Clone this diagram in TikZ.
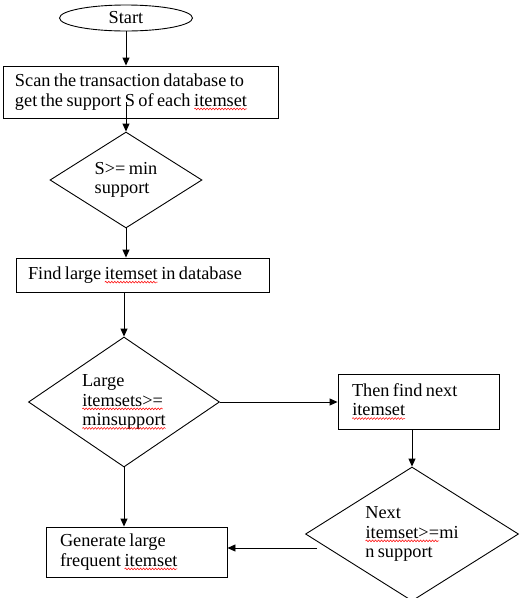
\documentclass[tikz,border=0pt]{standalone}
\usepackage{fontspec}
\setmainfont{Liberation Serif}
\usetikzlibrary{shapes.geometric,arrows.meta,decorations.pathmorphing}
\tikzset{
  spellword/.style={rectangle,draw=none,fill=none,inner sep=0pt,outer sep=0pt,minimum width=0pt,minimum height=0pt,text width={},aspect=1},
  spellline/.style={red,line width=0.5pt,decorate,decoration={snake,amplitude=0.9pt,segment length=3pt}}
}
\newcommand\spellwave[1]{\tikz[baseline=(w.base)]{\node[spellword] (w) {#1};
  \draw[spellline] ([yshift=-2.8pt]w.base west) -- ([yshift=-2.8pt]w.base east);}}
\newcommand\flowfont{\fontsize{18.3}{19.5}\selectfont}

\begin{document}
\begin{tikzpicture}[x=1pt,y=1pt,
  every node/.style={font=\flowfont,execute at begin node={\spaceskip=3.4pt plus 1pt minus 0.5pt}},
  procbox/.style={draw,line width=0.9pt,rectangle,align=left,inner xsep=12pt,inner ysep=0pt},
  decision/.style={draw,line width=0.9pt,diamond,align=left,inner sep=0pt},
  terminal/.style={draw,line width=0.9pt,ellipse,inner sep=0pt},
  flow/.style={line width=0.9pt,-{Triangle[length=8pt,width=7pt]}}]
\useasboundingbox (0,0) rectangle (522,-598);
\clip (0,0) rectangle (522,-598);
\node [terminal,minimum width=133pt,minimum height=26pt] (start) at (126,-18) {Start};
\node [procbox,text width=251pt,minimum height=52pt] (scan) at (140.5,-92) {Scan the transaction database to\\get the support S of each \spellwave{itemset}};
\node [decision,minimum width=152pt,minimum height=96pt,aspect=1.58] (minsup) at (126,-180) {S>= min\\support};
\node [procbox,text width=229pt,minimum height=34pt] (find) at (142.5,-275) {Find large \spellwave{itemset} in database};
\node [decision,minimum width=191pt,minimum height=130pt,aspect=1.47] (largesup) at (124,-402) {Large\\\spellwave{itemsets>=}\\\spellwave{minsupport}};
\node [procbox,inner xsep=14pt,text width=133pt,minimum height=55pt] (next) at (418.5,-401.5) {Then find next\\\spellwave{itemset}};
\node [decision,minimum width=213pt,minimum height=134pt,aspect=1.59] (nextsup) at (412,-534) {Next\\\spellwave{itemset>=}mi\\n support};
\node [procbox,inner xsep=14pt,text width=153pt,minimum height=50pt] (gen) at (136.5,-552) {Generate large\\frequent \spellwave{itemset}};
\coordinate (scanout) at (126,-102);
\coordinate (loopin) at (317,-548);
\draw [flow] (start.south) -- (start.south |- scan.north);
\draw [flow] (scanout) -- (scanout |- minsup.north);
\draw [flow] (minsup.south) -- (minsup.south |- find.north);
\draw [flow] (largesup.north |- find.south) -- (largesup.north);
\draw [flow] (largesup.east) -- (largesup.east -| next.west);
\draw [flow] (nextsup.north |- next.south) -- (nextsup.north);
\draw [flow] (largesup.south) -- (largesup.south |- gen.north);
\draw [flow] (loopin) -- (loopin -| gen.east);
\end{tikzpicture}
\end{document}
